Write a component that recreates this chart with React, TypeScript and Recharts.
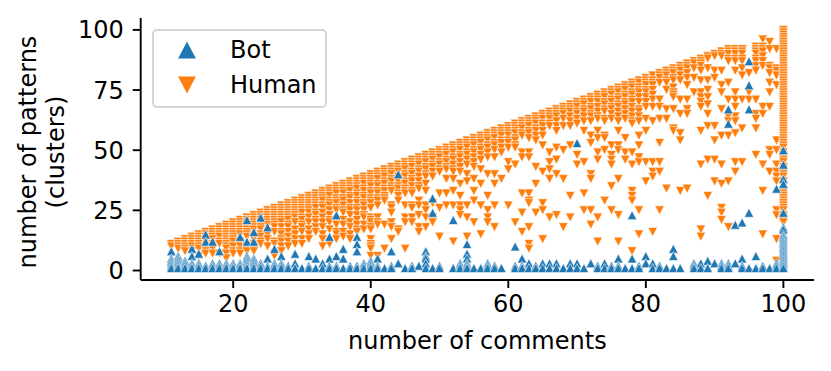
import React from 'react';
import { ScatterChart, Scatter, XAxis, YAxis, Legend } from 'recharts';

const xTicks = [20, 40, 60, 80, 100];
const yTicks = [0, 25, 50, 75, 100];

// [number of comments, ...numbers of patterns]
const humanColumns: number[][] = [
  [11, 11, 10],
  [12, 12, 11, 10, 9],
  [13, 13, 12, 11, 10, 9, 8],
  [14, 14, 13, 12, 11, 10, 8],
  [15, 15, 14, 13, 12, 11, 10, 9, 6],
  [16, 16, 15, 14, 13, 12, 10, 8, 7],
  [17, 17, 16, 15, 14, 13, 11, 10, 9, 7],
  [18, 18, 17, 16, 15, 14, 12, 11, 7],
  [19, 19, 18, 17, 16, 15, 14, 13, 12, 11, 10, 9, 7, 5],
  [20, 20, 19, 18, 17, 16, 15, 14, 13, 12, 10, 8, 7],
  [21, 21, 20, 19, 18, 17, 16, 15, 12, 11, 10, 8, 7],
  [22, 22, 21, 20, 19, 18, 17, 16, 15, 14, 10, 9, 8],
  [23, 23, 22, 21, 20, 19, 18, 17, 14, 13, 11, 10, 8],
  [24, 24, 23, 22, 21, 20, 19, 18, 17, 15, 14, 12, 11],
  [25, 25, 24, 23, 22, 21, 20, 19, 16, 15, 13, 10],
  [26, 26, 25, 24, 23, 22, 21, 20, 19, 18, 16, 12, 11, 7, 6],
  [27, 27, 26, 25, 24, 23, 22, 21, 20, 18, 16, 15, 13, 12, 10, 8],
  [28, 28, 27, 26, 25, 24, 23, 22, 21, 19, 18, 16, 14, 12, 10],
  [29, 29, 28, 27, 26, 25, 24, 23, 22, 20, 17, 15, 13, 11],
  [30, 30, 29, 28, 27, 26, 25, 24, 22, 21, 19, 18, 16, 13, 11],
  [31, 31, 30, 29, 28, 27, 26, 25, 24, 22, 20, 17, 15, 13],
  [32, 32, 31, 30, 29, 28, 27, 26, 24, 23, 21, 20, 18, 16],
  [33, 33, 32, 31, 30, 29, 27, 26, 24, 22, 20, 18, 15, 13, 10],
  [34, 34, 33, 32, 31, 29, 28, 27, 25, 23, 21, 20, 17, 11],
  [35, 35, 34, 33, 32, 30, 29, 28, 26, 25, 21, 19, 16, 15, 13],
  [36, 36, 35, 34, 33, 32, 30, 29, 27, 25, 24, 21, 19, 16, 14],
  [37, 37, 36, 35, 34, 33, 31, 30, 28, 26, 25, 23, 20, 18, 15, 13],
  [38, 38, 37, 36, 35, 34, 32, 31, 29, 28, 26, 25, 23, 21, 19, 17, 16],
  [39, 39, 38, 37, 36, 34, 33, 31, 30, 28, 27, 25, 23, 22, 19, 17],
  [40, 40, 39, 38, 37, 36, 35, 33, 32, 30, 29, 28, 26, 22, 21, 20, 18, 17, 13, 11, 10, 9, 6],
  [41, 41, 40, 39, 38, 36, 35, 33, 32, 30, 29, 27, 22, 20, 19, 6],
  [42, 42, 41, 40, 39, 37, 36, 34, 33, 31, 30, 29, 19, 9],
  [43, 43, 42, 41, 40, 38, 37, 35, 34, 33, 27, 26, 24, 20, 18, 13],
  [44, 44, 43, 42, 41, 39, 38, 37, 35, 34, 32, 31, 29, 17, 16],
  [45, 45, 44, 43, 42, 40, 39, 37, 36, 34, 33, 32, 27, 22, 20, 9],
  [46, 46, 45, 44, 43, 41, 40, 38, 37, 35, 33, 32, 27, 26, 22, 20],
  [47, 47, 46, 45, 44, 42, 41, 39, 37, 35, 34, 29, 27, 23, 18, 16],
  [48, 48, 47, 46, 45, 43, 42, 40, 39, 36, 33, 27, 25, 22, 18],
  [49, 49, 48, 47, 46, 44, 43, 41, 39, 28, 22, 20],
  [50, 50, 49, 48, 47, 45, 44, 42, 41, 32, 26, 14],
  [51, 51, 50, 49, 48, 46, 45, 43, 42, 38, 32, 27],
  [52, 52, 51, 50, 49, 47, 46, 44, 42, 41, 38, 33, 27, 12],
  [53, 53, 52, 51, 50, 48, 47, 45, 43, 41, 36, 31, 27, 25, 23],
  [54, 54, 53, 52, 51, 49, 48, 46, 44, 40, 37, 27, 22, 14],
  [55, 55, 54, 53, 52, 50, 49, 47, 45, 43, 38, 33, 29, 20],
  [56, 56, 55, 54, 53, 51, 50, 48, 46, 42, 36, 27, 15],
  [57, 57, 56, 55, 54, 52, 51, 49, 47, 40, 31, 25, 22, 20],
  [58, 58, 57, 56, 55, 53, 52, 50, 47, 40, 36, 27, 18],
  [59, 59, 58, 57, 56, 54, 53, 51, 49, 38],
  [60, 60, 59, 58, 57, 56, 54, 53, 51, 45, 42, 27],
  [61, 61, 60, 59, 58, 57, 55, 54, 52, 51, 44, 20],
  [62, 62, 61, 60, 59, 57, 56, 49, 47, 32, 24, 16],
  [63, 63, 62, 61, 60, 58, 57, 55, 49, 47, 32, 29, 28, 18, 11, 9],
  [64, 64, 63, 62, 61, 59, 58, 56, 54, 43, 36, 24],
  [65, 65, 64, 63, 61, 60, 58, 56, 52, 41, 28, 25, 13],
  [66, 66, 65, 64, 63, 61, 60, 49, 45, 42, 38, 22],
  [67, 67, 66, 65, 64, 62, 60, 58, 51, 46, 40, 23],
  [68, 68, 67, 66, 65, 63, 60, 50, 38, 18],
  [69, 69, 68, 67, 66, 64, 62, 60, 52, 31, 22],
  [70, 70, 69, 68, 66, 65, 63, 61, 48, 44],
  [71, 71, 70, 69, 67, 66, 64, 62, 58, 45, 32, 25],
  [72, 72, 71, 70, 68, 67, 65, 64, 62, 56, 53, 40, 38, 25, 19],
  [73, 73, 72, 71, 70, 68, 66, 64, 63, 58, 55, 49, 46, 22, 12],
  [74, 74, 73, 72, 70, 69, 67, 66, 63, 62, 56, 55, 50, 29],
  [75, 75, 74, 73, 71, 70, 68, 67, 65, 63, 52, 48, 46, 44, 35, 25],
  [76, 76, 75, 74, 72, 71, 69, 68, 66, 64, 62, 58, 52, 50, 38, 23, 12],
  [77, 77, 76, 75, 73, 72, 70, 69, 67, 65, 63, 55, 49, 46],
  [78, 78, 77, 76, 74, 73, 71, 70, 68, 66, 64, 62, 61, 49, 44, 33, 31, 29, 8],
  [79, 79, 78, 76, 75, 74, 72, 70, 67, 66, 64, 62, 56, 52, 47, 45, 25, 15],
  [80, 80, 79, 78, 77, 75, 74, 72, 70, 68, 63, 58, 45, 37],
  [81, 81, 79, 78, 77, 75, 73, 71, 68, 62, 45, 41, 39, 16],
  [82, 82, 81, 80, 78, 71, 68, 63, 53, 45, 41, 25],
  [83, 83, 82, 81, 79, 78, 75, 67, 63, 34],
  [84, 84, 83, 82, 80, 79, 76, 74, 73, 72, 67, 59, 58],
  [85, 85, 84, 83, 81, 79, 71, 65, 57, 54, 33],
  [86, 86, 85, 84, 82, 80, 77, 71, 67, 65, 34],
  [87, 87, 86, 84, 80, 74],
  [88, 88, 87, 86, 85, 83, 79, 74, 72, 70, 68, 58, 44, 17, 14],
  [89, 89, 88, 84, 79, 75, 72, 69, 65, 60, 46, 31],
  [90, 90, 89, 83, 80, 60, 54, 46, 37],
  [91, 91, 90, 89, 83, 77, 74, 67, 56, 44, 36, 26, 24, 21],
  [92, 92, 91, 90, 88, 87, 78, 71, 64, 62, 56, 37, 18],
  [93, 92, 91, 90, 88, 87, 83, 74, 71, 68, 64, 62, 57, 45, 41],
  [94, 92, 91, 90, 88, 87, 84, 81, 71, 59, 45],
  [95, 82, 74, 71],
  [96, 93, 92, 91, 90, 88, 87, 85, 83, 71, 65, 63, 59, 48],
  [97, 96, 93, 92, 91, 89, 87, 85, 68, 65, 44, 33, 15],
  [98, 95, 92, 85, 84, 82, 78, 74, 68, 50, 48, 41],
  [99, 92, 84, 83, 81, 77, 54, 50, 44, 41, 39, 37, 25, 23, 13, 4],
  [100, 100, 99, 98, 97, 96, 95, 94, 93, 92, 91, 90, 89, 88, 87, 86, 85, 84, 83, 82, 81, 80, 79, 78, 77, 76, 75, 74, 73, 72, 71, 70, 69, 68, 67, 66, 65, 64, 63, 62, 61, 60, 59, 58, 57, 56, 55, 54, 53, 52, 51, 49, 48, 47, 46, 45, 43, 42, 41, 40, 39, 37, 35, 33, 32, 31, 30, 29, 28, 27, 26, 25, 23, 22, 21, 20],
];

const botColumns: number[][] = [
  [11, 8, 5, 4, 3, 2, 1],
  [12, 6, 5, 4, 3, 2, 1],
  [13, 4, 3, 2, 1],
  [14, 9, 6, 3, 2, 1],
  [15, 7, 3, 2, 1],
  [16, 15, 12, 2, 1],
  [17, 12, 3, 2, 1],
  [18, 8, 3, 2, 1],
  [19, 3, 2, 1],
  [20, 3, 2, 1],
  [21, 14, 3, 2, 1],
  [22, 21, 12, 6, 5, 4, 3, 2, 1],
  [23, 16, 12, 5, 4, 3, 2, 1],
  [24, 22, 3, 2, 1],
  [25, 18, 5, 2, 1],
  [26, 9, 3, 2, 1],
  [27, 6, 3, 2, 1],
  [28, 2, 1],
  [29, 7, 3, 1],
  [30, 1],
  [31, 6, 2, 1],
  [32, 5, 1],
  [33, 3, 1],
  [34, 14, 5, 2, 1],
  [35, 23, 6, 2, 1],
  [36, 9, 5, 1],
  [37, 2, 1],
  [38, 14, 11, 8, 2, 1],
  [39, 3, 2, 1],
  [40, 4, 3, 2, 1],
  [41, 5, 2, 1],
  [42, 1],
  [43, 8, 2, 1],
  [44, 40, 3],
  [45, 1],
  [46, 2, 1],
  [47, 2],
  [48, 8, 6, 5, 3, 1],
  [49, 30, 24, 1],
  [50, 2, 1],
  [52, 21, 1],
  [53, 3, 2, 1],
  [54, 11, 7, 5, 3, 2, 1],
  [55, 1],
  [56, 1],
  [57, 3, 2, 1],
  [58, 2, 1],
  [59, 1],
  [61, 10, 2, 1],
  [62, 5, 2, 1],
  [63, 3, 1],
  [64, 2, 1],
  [65, 3, 1],
  [66, 3, 1],
  [67, 3, 1],
  [68, 1],
  [69, 3, 1],
  [70, 53, 3, 1],
  [71, 1],
  [72, 3],
  [73, 2, 1],
  [74, 3, 1],
  [75, 2, 1],
  [76, 5, 2, 1],
  [77, 1],
  [78, 23, 5, 1],
  [79, 2, 1],
  [80, 6, 3],
  [81, 3, 1],
  [82, 2, 1],
  [83, 1],
  [84, 9, 6, 1],
  [85, 1],
  [87, 3, 2, 1],
  [88, 3, 1],
  [89, 4, 1],
  [90, 3],
  [91, 3, 2, 1],
  [92, 67, 61, 3, 2, 1],
  [93, 19, 3],
  [94, 20, 5, 2, 1],
  [95, 87, 77, 67, 24, 1],
  [96, 6, 1],
  [97, 2, 1],
  [98, 1],
  [99, 34, 3, 2, 1],
  [100, 50, 44, 38, 36, 24, 18, 17, 15, 14, 13, 12, 11, 10, 9, 8, 7, 6, 5, 4, 3, 2, 1],
];

const toPoints = (columns: number[][]) =>
  columns.flatMap(([x, ...ys]) => ys.map((y) => ({ x, y })));

const BLUE = '#1f77b4';
const ORANGE = '#ff7f0e';
const FONT = '"DejaVu Sans", sans-serif';
const FONT_SIZE = 24;

const tick = { fill: '#000', fontSize: FONT_SIZE, fontFamily: FONT };
const axisLine = { stroke: '#000', strokeWidth: 1.9 };

const trianglePath = (cx: number, cy: number, r: number, up: boolean) => {
  const tip = up ? cy - r : cy + r;
  const base = up ? cy + r : cy - r;
  return `M${cx},${tip}L${cx + r * 1.05},${base}L${cx - r * 1.05},${base}Z`;
};

const Marker = ({ cx, cy, fill, up }: any) => (
  <path d={trianglePath(cx, cy, 4.5, up)} fill={fill} stroke="#fff" strokeWidth={0.6} />
);

const LegendBox = () => (
  <div
    style={{
      width: 175,
      height: 79,
      boxSizing: 'border-box',
      border: '2px solid #d5d5d5',
      borderRadius: 5,
      background: 'rgba(255,255,255,0.8)',
      position: 'relative',
      fontFamily: FONT,
      fontSize: FONT_SIZE,
      color: '#000',
    }}
  >
    {[
      { name: 'Bot', color: BLUE, up: true, top: 1 },
      { name: 'Human', color: ORANGE, up: false, top: 36 },
    ].map((item) => (
      <div key={item.name} style={{ position: 'absolute', left: 0, top: item.top, height: 36, width: '100%' }}>
        <svg width={60} height={36} style={{ position: 'absolute', left: 0, top: 0 }}>
          <path d={trianglePath(33, 18, 8.5, item.up)} fill={item.color} />
        </svg>
        <span style={{ position: 'absolute', left: 76, top: 5, lineHeight: '26px' }}>{item.name}</span>
      </div>
    ))}
  </div>
);

const YLabel = () => (
  <text
    transform="translate(28,152) rotate(-90)"
    textAnchor="middle"
    fontFamily={FONT}
    fontSize={FONT_SIZE}
    fill="#000"
  >
    <tspan x={0} dy={8}>number of patterns</tspan>
    <tspan x={0} dy={28}>(clusters)</tspan>
  </text>
);

export default function App() {
  return (
    <div style={{ position: 'absolute', left: 0, top: 0, width: 831, height: 371, background: '#fff' }}>
      <ScatterChart width={831} height={371} margin={{ top: 18, right: 17, bottom: 0, left: 0 }}>
        <XAxis
          type="number"
          dataKey="x"
          domain={[6.55, 104.45]}
          ticks={xTicks}
          height={91}
          axisLine={axisLine}
          tickLine={axisLine}
          tickSize={8}
          tickMargin={7}
          tick={tick}
          allowDataOverflow
          label={{
            value: 'number of comments',
            position: 'insideBottom',
            offset: 22,
            dx: 0,
            fill: '#000',
            fontSize: FONT_SIZE,
            fontFamily: FONT,
          }}
        />
        <YAxis
          type="number"
          dataKey="y"
          domain={[-3.95, 104.95]}
          ticks={yTicks}
          width={140.7}
          axisLine={axisLine}
          tickLine={axisLine}
          tickSize={8}
          tickMargin={9}
          tick={tick}
          allowDataOverflow
          label={{ content: <YLabel /> }}
        />
        <Legend
          layout="vertical"
          align="center"
          verticalAlign="middle"
          wrapperStyle={{ left: 152, top: 29, width: 175, height: 79 }}
          content={<LegendBox />}
        />
        <Scatter
          name="Human"
          data={toPoints(humanColumns)}
          fill={ORANGE}
          isAnimationActive={false}
          shape={(p: any) => <Marker cx={p.cx} cy={p.cy} fill={ORANGE} up={false} />}
        />
        <Scatter
          name="Bot"
          data={toPoints(botColumns)}
          fill={BLUE}
          isAnimationActive={false}
          shape={(p: any) => <Marker cx={p.cx} cy={p.cy} fill={BLUE} up />}
        />
      </ScatterChart>
    </div>
  );
}
